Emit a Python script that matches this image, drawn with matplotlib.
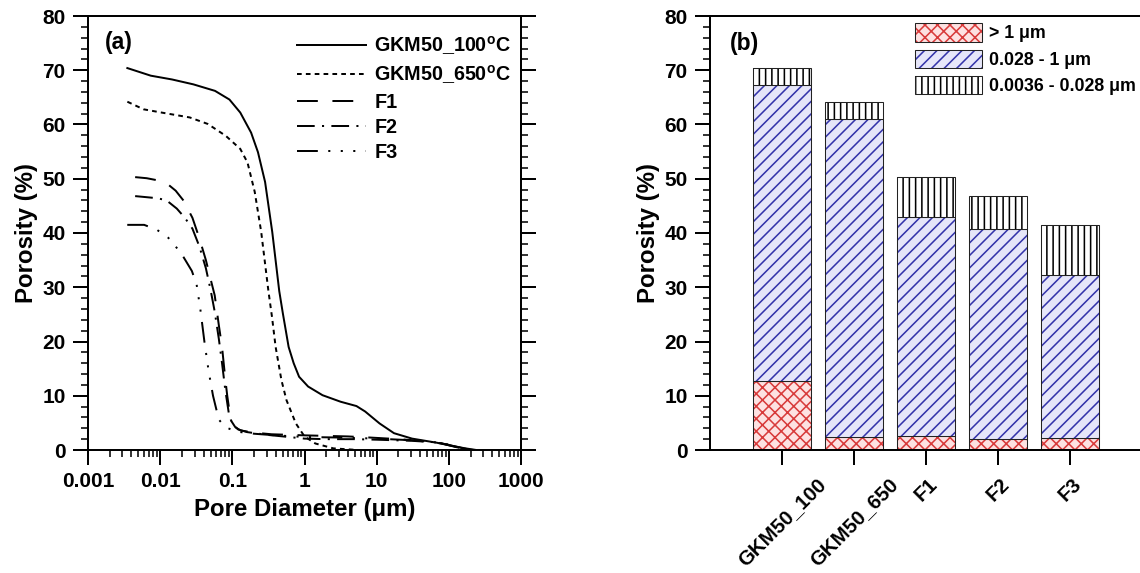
import matplotlib
matplotlib.use('Agg')
import matplotlib.pyplot as plt
import numpy as np
from matplotlib.ticker import FixedLocator, FixedFormatter, MultipleLocator, LogLocator, NullFormatter
from matplotlib.patches import Patch

plt.rcParams['font.family'] = ['Liberation Sans', 'DejaVu Sans']
plt.rcParams['font.weight'] = 'bold'
plt.rcParams['axes.labelweight'] = 'bold'
plt.rcParams['mathtext.fontset'] = 'custom'
plt.rcParams['mathtext.rm'] = 'Liberation Sans:bold'
plt.rcParams['mathtext.bf'] = 'Liberation Sans:bold'
plt.rcParams['lines.scale_dashes'] = False
plt.rcParams['hatch.linewidth'] = 1.5

# ---------------- data: panel (a) ----------------
d_100 = [0.00351, 0.00741, 0.01462, 0.02884, 0.05754, 0.0912, 0.1288, 0.182, 0.2265, 0.2844,
         0.3573, 0.4467, 0.501, 0.6026, 0.7079, 0.8414, 1.122, 1.778, 3.162, 5.248,
         6.918, 10.96, 17.38, 30.9, 67.6, 107.2, 169.8, 239.9]
p_100 = [70.4, 69.0, 68.3, 67.4, 66.2, 64.6, 62.2, 58.5, 54.9, 49.4,
         40.2, 29.3, 25.2, 19.0, 16.0, 13.5, 11.7, 10.1, 8.9, 8.1,
         7.1, 4.9, 3.1, 2.1, 1.35, 0.8, 0.3, 0.0]

d_650 = [0.00351, 0.00589, 0.01047, 0.0257, 0.0457, 0.0813, 0.1288, 0.1622, 0.2042, 0.2512,
         0.3162, 0.3548, 0.398, 0.4786, 0.5623, 0.7586, 1.0, 1.413, 2.512, 5.5]
p_650 = [64.2, 62.8, 62.2, 61.3, 60.1, 57.9, 55.5, 53.0, 47.6, 40.2,
         29.3, 24.5, 19.0, 12.9, 9.2, 4.9, 2.5, 1.2, 0.3, 0.0]

d_f1 = [0.0045, 0.0065, 0.0093, 0.013, 0.0164, 0.021, 0.028, 0.035, 0.043, 0.05, 0.057, 0.065,
        0.072, 0.08, 0.085, 0.095, 0.11, 0.13, 0.2, 0.35, 0.6, 1.0, 2.0, 4.0, 8.0, 20.0, 50.0,
        80.0, 120.0, 180.0, 220.0]
p_f1 = [50.3, 50.1, 49.7, 48.9, 47.8, 46.0, 42.8, 39.0, 35.0, 31.5, 28.5, 23.0,
        19.0, 13.0, 10.0, 5.5, 4.2, 3.6, 3.2, 2.9, 2.8, 2.7, 2.6, 2.5, 2.3, 2.0, 1.6,
        1.2, 0.6, 0.1, 0.0]

d_f2 = [0.0045, 0.0065, 0.0093, 0.0123, 0.017, 0.022, 0.028, 0.035, 0.043, 0.05, 0.057, 0.065,
        0.072, 0.08, 0.09, 0.1, 0.12, 0.16, 0.3, 0.6, 1.0, 2.0, 5.0, 10.0, 30.0, 70.0, 110.0,
        160.0, 210.0]
p_f2 = [46.8, 46.6, 46.4, 46.0, 44.5, 42.8, 40.8, 37.5, 33.5, 29.5, 25.5, 20.5,
        16.0, 11.0, 6.5, 4.8, 3.8, 3.3, 2.8, 2.4, 2.1, 2.0, 2.0, 1.9, 1.7, 1.4, 0.8,
        0.3, 0.0]

d_f3 = [0.0035, 0.006, 0.009, 0.013, 0.0195, 0.0275, 0.032, 0.036, 0.041, 0.047, 0.054, 0.06,
        0.066, 0.08, 0.1, 0.13, 0.2, 0.4, 1.0, 3.0, 10.0, 30.0, 80.0, 130.0, 180.0, 220.0]
p_f3 = [41.5, 41.5, 40.6, 39.1, 36.3, 33.0, 30.5, 26.0, 20.0, 14.5, 10.0, 7.5,
        5.5, 4.2, 3.7, 3.3, 3.0, 2.7, 2.4, 2.3, 2.1, 1.8, 1.3, 0.6, 0.1, 0.0]

curve_labels = ['GKM50_100$^{\\mathrm{o}}$C', 'GKM50_650$^{\\mathrm{o}}$C', 'F1', 'F2', 'F3']
xtick_vals = [0.001, 0.01, 0.1, 1, 10, 100, 1000]
xtick_labels = ['0.001', '0.01', '0.1', '1', '10', '100', '1000']

# ---------------- data: panel (b) ----------------
samples = ['GKM50_100', 'GKM50_650', 'F1', 'F2', 'F3']
large = [12.8, 2.4, 2.6, 2.1, 2.3]          # > 1 um
medium = [54.5, 58.6, 40.3, 38.6, 30.0]     # 0.028 - 1 um
small = [3.2, 3.1, 7.4, 6.1, 9.2]           # 0.0036 - 0.028 um
bar_labels = ['> 1 \u03bcm', '0.028 - 1 \u03bcm', '0.0036 - 0.028 \u03bcm']

DPI = 75
fig = plt.figure(figsize=(1140 / DPI, 573 / DPI), dpi=DPI)

TICK_FS = 20
LABEL_FS = 23

def style_axis(ax):
    for s in ax.spines.values():
        s.set_linewidth(1.9)
    ax.tick_params(which='major', direction='out', length=14.4, width=1.9,
                   labelsize=TICK_FS, pad=7)
    ax.tick_params(which='minor', direction='out', length=6.7, width=1.5)
    for lab in ax.get_xticklabels() + ax.get_yticklabels():
        lab.set_fontweight('bold')

# ---------------- panel (a) ----------------
ax1 = fig.add_axes([88 / 1140, 123 / 573, 433 / 1140, 434 / 573])
ax1.set_xscale('log')
styles = ['-', (0, (4.5, 4.0)), (0, (20, 14)), (0, (17, 7, 2, 7)),
          (0, (20, 10, 2, 10, 2, 10, 2, 10))]
series = [(d_100, p_100), (d_650, p_650), (d_f1, p_f1), (d_f2, p_f2), (d_f3, p_f3)]
for (dx, py), ls, lab in zip(series, styles, curve_labels):
    ax1.plot(dx, py, color='black', lw=1.9, linestyle=ls, label=lab)
ax1.set_xlim(1e-3, 1e3)
ax1.set_ylim(0, 80)
ax1.xaxis.set_major_locator(FixedLocator(xtick_vals))
ax1.xaxis.set_major_formatter(FixedFormatter(xtick_labels))
ax1.xaxis.set_minor_locator(LogLocator(base=10, subs=np.arange(2, 10), numticks=20))
ax1.xaxis.set_minor_formatter(NullFormatter())
ax1.yaxis.set_major_locator(MultipleLocator(10))
ax1.yaxis.set_minor_locator(MultipleLocator(2))
ax1.tick_params(which='both', right=True, top=False)
style_axis(ax1)
ax1.set_xlabel('Pore Diameter (\u03bcm)', fontsize=LABEL_FS, fontweight='bold', labelpad=6)
ax1.set_ylabel('Porosity (%)', fontsize=LABEL_FS, fontweight='bold', labelpad=4)
ax1.text(0.04, 0.94, '(a)', transform=ax1.transAxes, fontsize=22, fontweight='bold',
         va='center', ha='left')
leg1 = ax1.legend(loc='upper left', bbox_to_anchor=(0.483, 0.958), frameon=False,
                  fontsize=19, handlelength=3.5, handletextpad=0.4, labelspacing=0.32,
                  borderpad=0, borderaxespad=0)
for t in leg1.get_texts():
    t.set_fontweight('bold')

# ---------------- panel (b) ----------------
ax2 = fig.add_axes([710 / 1140, 123 / 573, 432 / 1140, 434 / 573])
xpos = np.arange(1, len(samples) + 1)
layers = [
    (large, '#fde1e1', '#d83a3a', 'xx'),
    (medium, '#e6e6f9', '#3434aa', '//'),
    (small, '#ffffff', '#000000', '||'),
]
bottom = np.zeros(len(samples))
handles = []
for vals, face, hc, hatch in layers:
    vals = np.array(vals)
    ax2.bar(xpos, vals, 0.8, bottom=bottom, color=face, edgecolor=hc, hatch=hatch,
            linewidth=0)
    ax2.bar(xpos, vals, 0.8, bottom=bottom, fill=False, edgecolor='#222222', linewidth=1.0)
    bottom = bottom + vals
    handles.append((Patch(facecolor=face, edgecolor=hc, hatch=hatch, linewidth=0),
                    Patch(fill=False, edgecolor='#222222', linewidth=1.0)))
ax2.set_xlim(0, 6)
ax2.set_ylim(0, 80)
ax2.set_xticks(xpos)
ax2.set_xticklabels(samples, rotation=45, ha='center', va='top')
ax2.yaxis.set_major_locator(MultipleLocator(10))
ax2.yaxis.set_minor_locator(MultipleLocator(2))
ax2.xaxis.set_minor_locator(plt.NullLocator())
style_axis(ax2)
ax2.tick_params(axis='x', which='major', labelsize=19.5, pad=9)
ax2.spines['right'].set_visible(False)
ax2.set_ylabel('Porosity (%)', fontsize=LABEL_FS, fontweight='bold', labelpad=4)
ax2.text(0.046, 0.937, '(b)', transform=ax2.transAxes, fontsize=22, fontweight='bold',
         va='center', ha='left')
leg2 = ax2.legend(handles, bar_labels, loc='upper left', bbox_to_anchor=(0.4745, 0.983),
                  frameon=False, fontsize=17, handlelength=3.8, handleheight=1.2,
                  handletextpad=0.4, labelspacing=0.4, borderpad=0, borderaxespad=0)
for t in leg2.get_texts():
    t.set_fontweight('bold')

fig.savefig('out.png', dpi=DPI)
